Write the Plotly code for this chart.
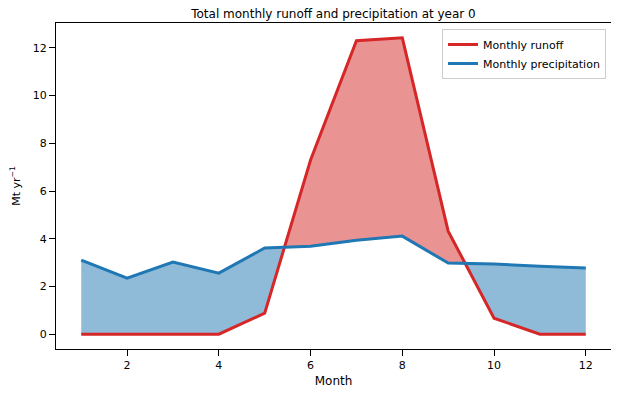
import plotly.graph_objects as go

months = [1, 2, 3, 4, 5, 6, 7, 8, 9, 10, 11, 12]
runoff = [0.0, 0.0, 0.0, 0.0, 0.88, 7.3, 12.3, 12.42, 4.32, 0.67, 0.0, 0.0]
precip = [3.1, 2.35, 3.02, 2.56, 3.61, 3.69, 3.94, 4.11, 2.98, 2.94, 2.85, 2.77]

RED = "#d62728"
BLUE = "#1f77b4"


def densify(x, a, b):
    xs, as_, bs = [], [], []
    for i in range(len(x)):
        xs.append(x[i]); as_.append(a[i]); bs.append(b[i])
        if i < len(x) - 1:
            d0 = a[i] - b[i]
            d1 = a[i + 1] - b[i + 1]
            if d0 * d1 < 0:
                t = d0 / (d0 - d1)
                xc = x[i] + t * (x[i + 1] - x[i])
                yc = a[i] + t * (a[i + 1] - a[i])
                xs.append(xc); as_.append(yc); bs.append(yc)
    return xs, as_, bs


xd, rd, pd_ = densify(months, runoff, precip)
upper_red = [max(r, p) for r, p in zip(rd, pd_)]
lower_blue = [min(r, p) for r, p in zip(rd, pd_)]

fig = go.Figure()
fig.add_trace(go.Scatter(x=xd, y=pd_, mode="lines", line=dict(width=0),
                         showlegend=False, hoverinfo="skip"))
fig.add_trace(go.Scatter(x=xd, y=upper_red, mode="lines", line=dict(width=0),
                         fill="tonexty", fillcolor="rgba(214,39,40,0.5)",
                         showlegend=False, hoverinfo="skip"))
fig.add_trace(go.Scatter(x=xd, y=lower_blue, mode="lines", line=dict(width=0),
                         showlegend=False, hoverinfo="skip"))
fig.add_trace(go.Scatter(x=xd, y=pd_, mode="lines", line=dict(width=0),
                         fill="tonexty", fillcolor="rgba(31,119,180,0.5)",
                         showlegend=False, hoverinfo="skip"))

fig.add_trace(go.Scatter(x=months, y=runoff, mode="lines", name="Monthly runoff",
                         line=dict(color=RED, width=3)))
fig.add_trace(go.Scatter(x=months, y=precip, mode="lines", name="Monthly precipitation",
                         line=dict(color=BLUE, width=3)))

# the page body has an 8px margin, so the figure is 8px smaller than the window
W, H = 611, 385
ML, MR, MT, MB = 47, 7, 15, 44
PW, PH = W - ML - MR, H - MT - MB

font = dict(family="DejaVu Sans", size=11, color="black")
fig.update_layout(
    width=W, height=H,
    margin=dict(l=ML, r=MR, t=MT, b=MB),
    paper_bgcolor="white", plot_bgcolor="white",
    font=font,
    title=dict(text="Total monthly runoff and precipitation at year 0",
               x=0.5, xref="paper", xanchor="center",
               y=1 - 6 / H, yanchor="middle",
               font=dict(family="DejaVu Sans", size=12, color="black")),
    legend=dict(x=1 - 5 / PW, xanchor="right", y=1 - 6 / PH, yanchor="top",
                traceorder="normal",
                bordercolor="#cccccc", borderwidth=1, bgcolor="rgba(255,255,255,0.8)",
                font=dict(family="DejaVu Sans", size=11, color="black"),
                itemwidth=30, tracegroupgap=0),
)
fig.update_xaxes(range=[0.45, 12.55], tickvals=[2, 4, 6, 8, 10, 12],
                 showgrid=False, zeroline=False, showline=True, linecolor="black",
                 linewidth=1.2, mirror=True, ticks="outside", ticklen=6, tickwidth=1.2,
                 tickcolor="black",
                 title=dict(text="Month", font=dict(family="DejaVu Sans", size=12), standoff=5))
fig.update_yaxes(range=[-0.62, 13.04], tickvals=[0, 2, 4, 6, 8, 10, 12],
                 showgrid=False, zeroline=False, showline=True, linecolor="black",
                 linewidth=1.2, mirror=True, ticks="outside", ticklen=6, tickwidth=1.2,
                 tickcolor="black",
                 title=dict(text="Mt yr<sup>−1</sup>", font=dict(family="DejaVu Sans", size=11), standoff=10))

fig.write_html("out.html")
